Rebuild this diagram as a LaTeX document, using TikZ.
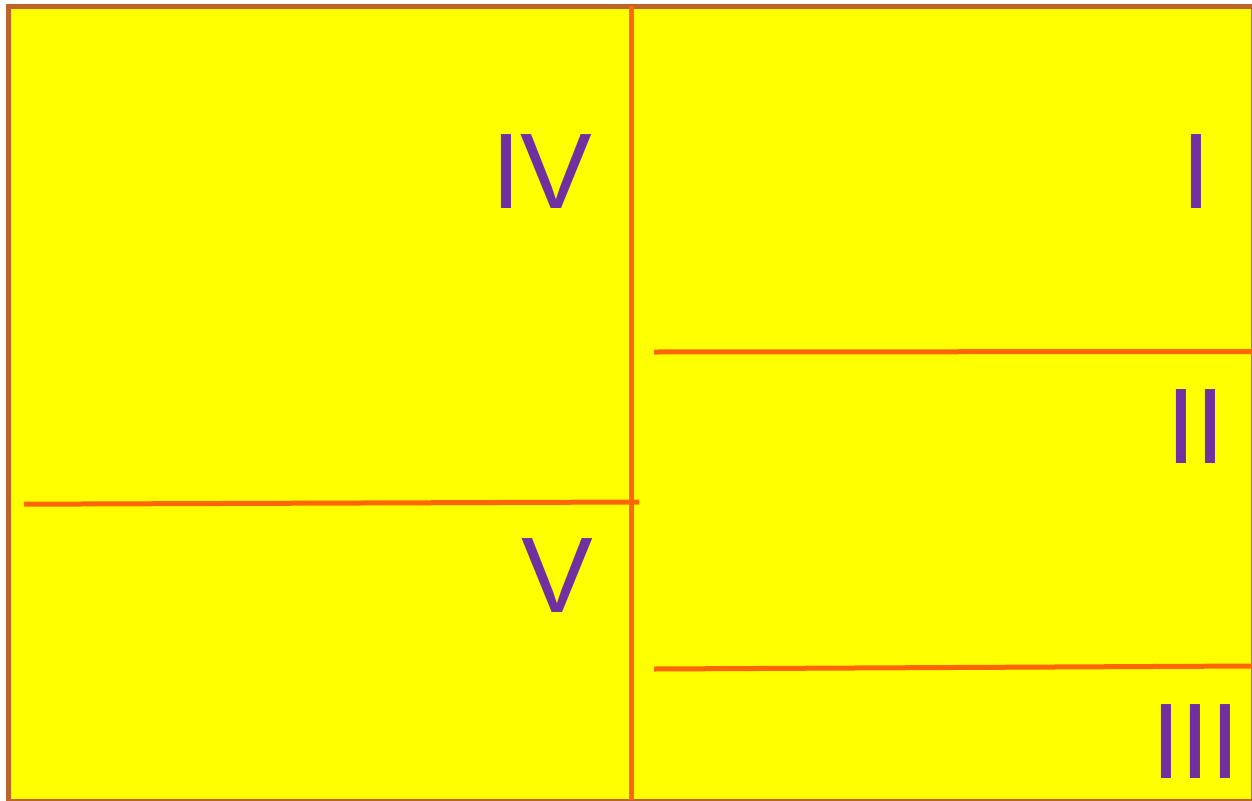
\documentclass[tikz,border=0pt]{standalone}
\usepackage{fontspec}
\setmainfont{Liberation Sans}
\definecolor{frameBrown}{RGB}{190,100,42}
\definecolor{lineOrange}{RGB}{255,102,0}
\definecolor{labelPurple}{RGB}{112,48,160}
\definecolor{fieldYellow}{RGB}{255,255,0}
\begin{document}
\begin{tikzpicture}[x=1pt,y=-1pt,
  divider/.style={draw=lineOrange,line width=5pt},
  roman/.style={text=labelPurple,anchor=base west,inner sep=0pt,outer sep=0pt,
    font=\fontsize{107.5}{107.5}\selectfont}]
\useasboundingbox (0,0) rectangle (1252,800);
\begin{scope}
\clip (0,0) rectangle (1252,800);
\draw[fill=fieldYellow,draw=frameBrown,line width=5pt] (8.5,6.5) rectangle (1253.5,801.5);
\end{scope}
% dividers
\coordinate (vtop) at (631.5,6.5);
\coordinate (vbot) at (631.5,800);
\coordinate (hVl) at (24,504.2);
\coordinate (hVr) at (639,502);
\coordinate (hIIl) at (654,352);
\coordinate (hIIr) at (1252,351.5);
\coordinate (hIIIl) at (654,669);
\coordinate (hIIIr) at (1252,666);
\draw[divider] (vtop) -- (vbot);
\draw[divider] (hVl) -- (hVr);
\draw[divider] (hIIl) -- (hIIr);
\draw[divider] (hIIIl) -- (hIIIr);
% labels
\node[roman] (lIV) at (491,208.5) {IV};
\node[roman] (lI) at (1181,208.5) {I};
\node[roman] (lII) at (1166,463) {II};
\node[roman] (lV) at (521.5,612.5) {V};
\node[roman] (lIII) at (1151,778.5) {III};
\end{tikzpicture}
\end{document}
